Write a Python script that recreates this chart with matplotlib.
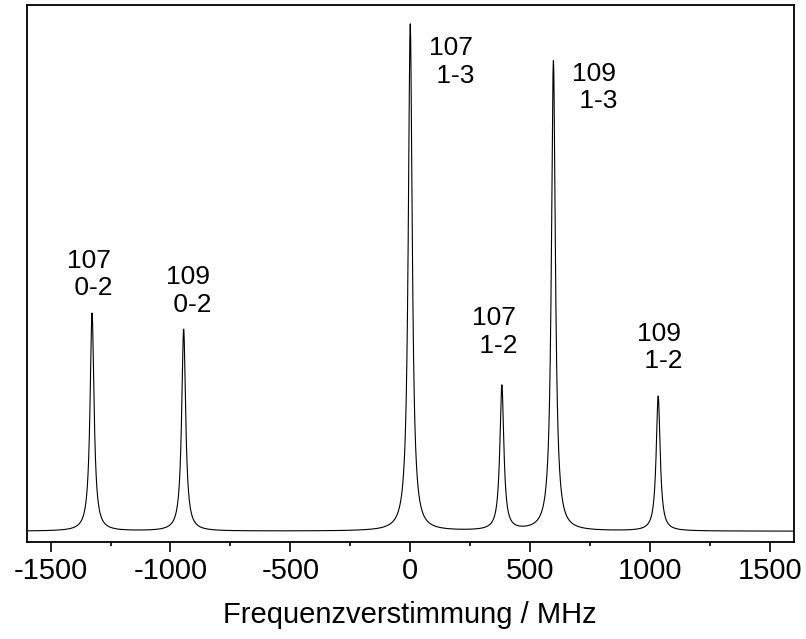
import numpy as np
import matplotlib as mpl
mpl.use('Agg')
import matplotlib.pyplot as pp
from matplotlib.ticker import MultipleLocator

pp.rcParams['font.family'] = ['Liberation Sans', 'DejaVu Sans']

# peak parameters (MHz, relative intensity)
peak_pos = [-1327, -945, 0, 382, 597, 1034]
peak_height = [0.430, 0.398, 1.0, 0.286, 0.927, 0.266]
peak_fwhm = [20, 20, 20, 20, 20, 20]
peak_isotope = ['107', '109', '107', '107', '109', '109']
peak_transition = ['0-2', '0-2', '1-3', '1-2', '1-3', '1-2']

# label anchor points (MHz, intensity) - baseline of the second line
label_x = [-1431, -1018, 77, 257, 673, 944]
label_y = [0.465, 0.432, 0.884, 0.351, 0.834, 0.321]

x_ticks = [-1500, -1000, -500, 0, 500, 1000, 1500]


def spectrum(f):
    s = np.zeros_like(f)
    for x0, h, w in zip(peak_pos, peak_height, peak_fwhm):
        s += h / (1.0 + (2.0 * (f - x0) / w) ** 2)
    return s


def main():
    fig = pp.figure(figsize=(8.06, 6.39), dpi=100)
    ax = fig.add_axes([0.033, 0.152, 0.952, 0.840])

    f = np.linspace(-1600, 1600, 12801)
    ax.plot(f, spectrum(f), color='black', lw=0.8)

    for x, y, iso, tr in zip(label_x, label_y, peak_isotope, peak_transition):
        ax.text(x, y, '%s\n %s' % (iso, tr), fontsize=19, ha='left',
                va='baseline', linespacing=1.2)

    ax.set_xlim(-1600, 1600)
    ax.set_ylim(-0.021, 1.0375)
    ax.set_xticks(x_ticks)
    ax.set_xticklabels([str(t) for t in x_ticks])
    ax.xaxis.set_minor_locator(MultipleLocator(250))
    ax.set_yticks([])
    ax.tick_params(axis='x', which='major', length=7.2, width=1.2,
                   labelsize=21, pad=4, direction='out')
    ax.tick_params(axis='x', which='minor', length=3, width=1.2,
                   direction='out')
    for s in ax.spines.values():
        s.set_linewidth(1.3)
    ax.set_xlabel('Frequenzverstimmung / MHz', fontsize=21, labelpad=11)

    fig.savefig('out.png', dpi=100)


if __name__ == '__main__':
    main()
